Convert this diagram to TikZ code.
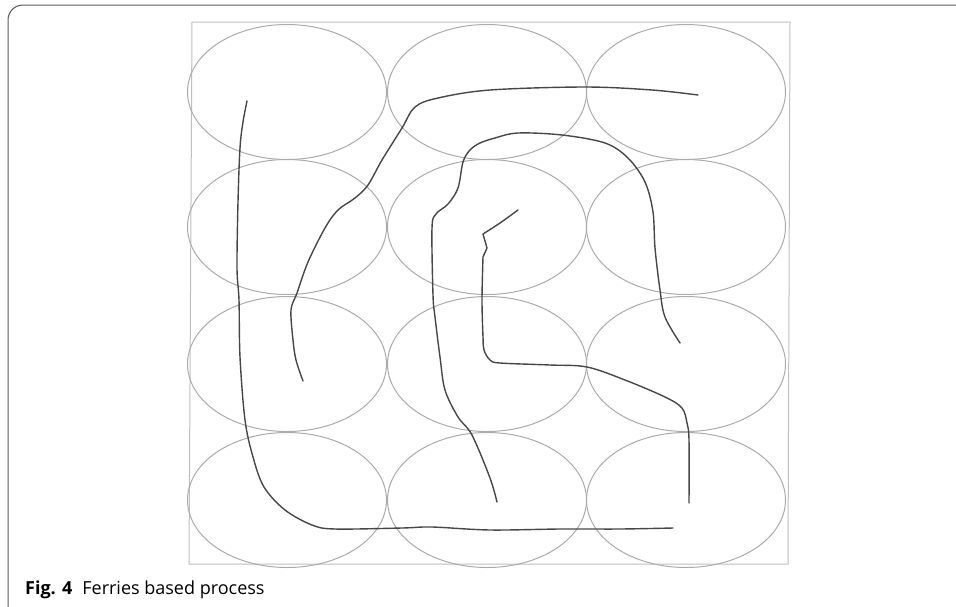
\documentclass[tikz,border=0pt]{standalone}
\usepackage{fontspec}
\setsansfont{Open Sans}
\usetikzlibrary{shapes.geometric}

\begin{document}
\begin{tikzpicture}[
  x=1pt, y=-1pt,
  cell/.style={draw=black!33, line width=1pt, ellipse, inner sep=0pt, minimum width=199pt, minimum height=135pt},
  area/.style={draw=black!25, line width=1pt},
  ferry/.style={draw=black!72, line width=1.4pt, line cap=round, line join=round},
  border/.style={draw=black!65, line width=1pt, rounded corners=15pt}
]
\useasboundingbox (0,0) rectangle (956,606);
\clip (0,0) rectangle (956,606);
\draw[border] (8,5) rectangle (975,620);
\draw[area] (192,22) -- (790,22) -- (788,564) -- (189,564) -- cycle;
% grid of regions
\foreach \y [count=\r] in {92,227,364,500}
  \foreach \x [count=\c] in {287,487,686}
    \node[cell] (cell\r\c) at (\x,\y) {};
% ferry routes
\draw[ferry] plot[smooth, tension=0.55] coordinates {(247,101) (243,122) (240,148) (238,202) (237,268) (239,300) (240,357) (245,420) (253,457) (264,487) (285,510) (312,525) (335,529) (402,528) (432,527) (490,530) (560,529) (620,529) (673,528)};
\draw[ferry] plot[smooth, tension=0.55] coordinates {(303,381) (296,360) (293,340) (291,310) (297,293) (308,262) (325,228) (338,210) (355,198) (368,185) (382,160) (402,128) (415,107) (438,98) (490,90) (585,87) (652,90) (698,95)};
\draw[ferry] plot[smooth, tension=0.55] coordinates {(497,502) (490,478) (472,435) (458,417) (445,390) (440,357) (435,317) (433,295) (432,228) (436,214) (448,204) (458,188) (463,162) (470,150) (480,143) (495,138) (518,133) (562,135) (605,143) (628,158) (645,182) (653,212) (655,248) (660,290) (665,317) (680,343)};
\draw[ferry] plot[smooth, tension=0.55] coordinates {(518,210) (500,223) (483,234)} -- (487,248) -- (483,257)
  -- plot[smooth, tension=0.55] coordinates {(483,257) (482,300) (483,337) (484,350) (490,360) (500,363) (550,365) (587,367) (625,380) (665,397) (682,408) (687,423) (689,440) (689,503)};
% caption
\node[anchor=base west, inner sep=0pt, font=\sffamily\fontsize{18}{20}\selectfont] (caption) at (25,594) {\textbf{Fig. 4}\hspace{10pt}Ferries based process};
\end{tikzpicture}
\end{document}
